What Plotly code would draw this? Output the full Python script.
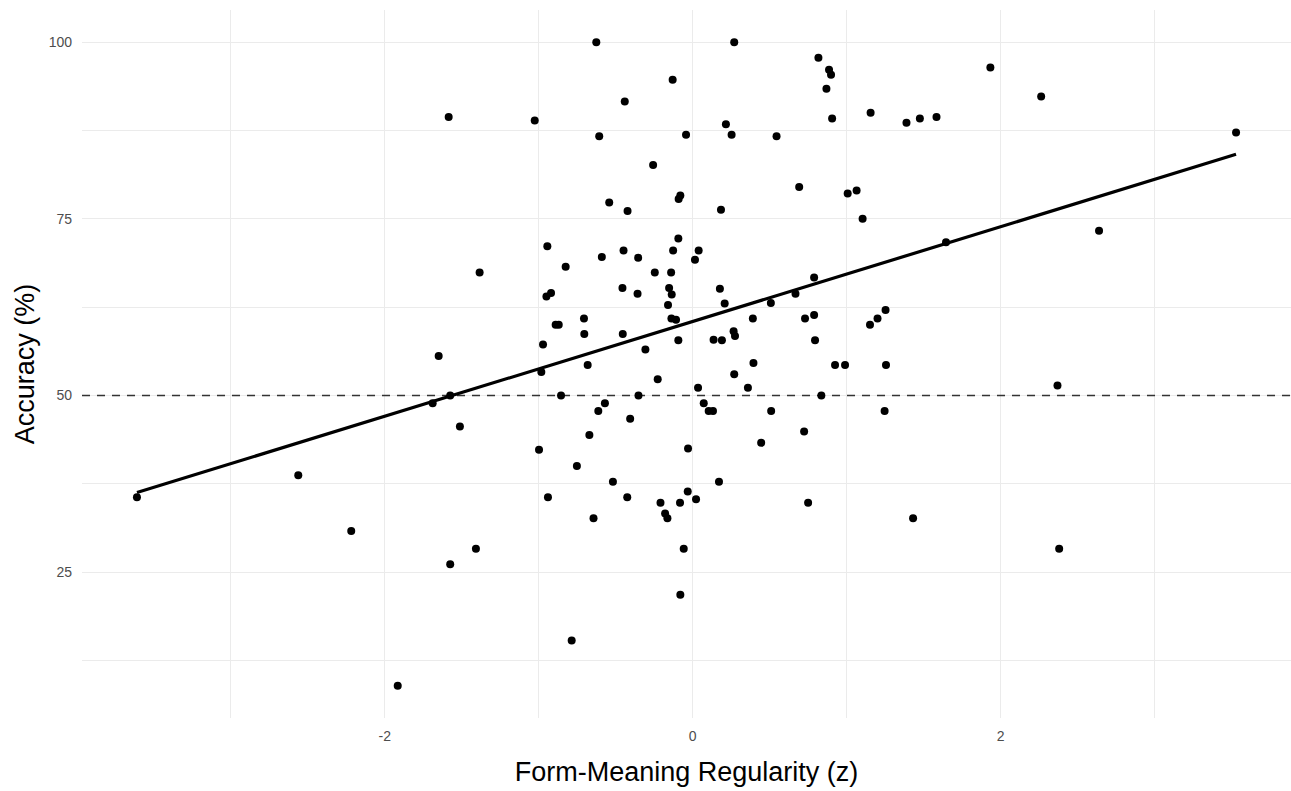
import numpy as np
import plotly.graph_objects as go

regularity_z = [
    -1.585, -1.384, -1.650, -0.626, 0.270, 0.817, 0.886, 0.899, 0.869, -0.130,
    -0.441, -1.026, 1.156, 0.906, 0.216, 0.253, -0.607, -0.043, 0.545, -0.257,
    0.692, 1.007, 1.065, -0.542, -0.080, -0.091, -0.423, 0.184, 1.104, -0.944,
    -0.093, -0.127, 0.039, -0.449, -0.590, -0.354, 0.015, -0.825, -0.246, -0.140,
    0.789, -0.456, -0.153, 0.177, -0.136, -0.358, -0.920, -0.950, 0.668, 0.508,
    0.208, -0.160, 1.253, 1.201, 1.152, 0.789, 0.730, 0.391, -0.138, -0.108,
    -0.706, -0.890, -0.870, -0.704, -0.454, -0.972, -0.307, -0.093, 0.136, 0.190,
    0.266, 0.275, 0.795, -0.682, -0.983, 0.395, 0.270, 0.925, 0.990, 1.256,
    -0.227, 0.359, 0.035, -0.855, -0.352, 0.836, -0.570, 0.072, -0.613, 0.104,
    0.132, 0.510, 1.247, -0.406, -0.671, 0.724, 0.445, -0.998, -0.030, -0.752,
    -0.518, 0.171, -0.940, -0.425, -0.032, 0.022, -0.209, -0.082, 0.750, -0.179,
    -0.164, -0.644, -0.058, -0.080, -0.786, -1.575, -1.689, -1.512, -2.562, -3.610,
    -2.218, -1.408, -1.575, -1.916, 1.934, 2.264, 1.389, 1.476, 1.584, 3.530,
    2.640, 1.646, 2.370, 1.432, 2.381,
]
accuracy = [
    89.4, 67.4, 55.6, 100.0, 100.0, 97.8, 96.1, 95.4, 93.4, 94.7,
    91.6, 88.9, 90.0, 89.2, 88.4, 86.9, 86.7, 86.9, 86.7, 82.6,
    79.5, 78.6, 79.0, 77.3, 78.3, 77.8, 76.1, 76.3, 75.0, 71.1,
    72.2, 70.5, 70.5, 70.5, 69.6, 69.5, 69.2, 68.2, 67.4, 67.4,
    66.7, 65.2, 65.2, 65.1, 64.3, 64.4, 64.5, 64.0, 64.4, 63.1,
    63.0, 62.8, 62.1, 60.9, 60.0, 61.4, 60.9, 60.9, 60.9, 60.7,
    60.9, 60.0, 60.0, 58.7, 58.7, 57.2, 56.5, 57.8, 57.9, 57.8,
    59.1, 58.4, 57.8, 54.3, 53.3, 54.6, 53.0, 54.3, 54.3, 54.3,
    52.3, 51.1, 51.1, 50.0, 50.0, 50.0, 48.9, 48.9, 47.8, 47.8,
    47.8, 47.8, 47.8, 46.7, 44.4, 44.9, 43.3, 42.3, 42.5, 40.0,
    37.8, 37.8, 35.6, 35.6, 36.4, 35.3, 34.8, 34.8, 34.8, 33.3,
    32.6, 32.6, 28.3, 21.8, 15.3, 50.0, 48.9, 45.6, 38.7, 35.6,
    30.8, 28.3, 26.1, 8.9, 96.4, 92.3, 88.6, 89.2, 89.4, 87.2,
    73.3, 71.7, 51.4, 32.6, 28.3,
]
chance_level = 50
x_ticks = [-2, 0, 2]
y_ticks = [25, 50, 75, 100]

x = np.array(regularity_z)
y = np.array(accuracy)
slope, intercept = np.polyfit(x, y, 1)
fit_x = np.array([x.min(), x.max()])
fit_y = intercept + slope * fit_x

xr = x.max() - x.min()
yr = y.max() - y.min()
x_range = [x.min() - 0.05 * xr, x.max() + 0.05 * xr]
y_range = [y.min() - 0.05 * yr, y.max() + 0.05 * yr]

FONT = "Liberation Sans, Arial, sans-serif"
GRID = "#EBEBEB"

fig = go.Figure()
fig.add_trace(go.Scatter(
    x=x_range, y=[chance_level, chance_level], mode="lines",
    line=dict(color="#333333", width=1.6, dash="8px,7px"),
    hoverinfo="skip", showlegend=False,
))
fig.add_trace(go.Scatter(
    x=regularity_z, y=accuracy, mode="markers",
    marker=dict(color="black", size=8, line=dict(width=0)),
    showlegend=False,
))
fig.add_trace(go.Scatter(
    x=fit_x, y=fit_y, mode="lines",
    line=dict(color="black", width=3.2),
    showlegend=False,
))

fig.update_layout(
    width=1291, height=791,
    margin=dict(l=82, r=0, t=10, b=73),
    paper_bgcolor="white", plot_bgcolor="white",
    font=dict(family=FONT, color="#4D4D4D"),
    xaxis=dict(
        range=x_range, tickvals=x_ticks, ticktext=[str(v) for v in x_ticks],
        showgrid=True, gridcolor=GRID, gridwidth=1.4, zeroline=False,
        showline=False, ticks="", tickfont=dict(size=14, color="#4D4D4D"),
        ticklabelstandoff=8,
        minor=dict(tickvals=[-3, -1, 1, 3], showgrid=True, gridcolor=GRID, gridwidth=1.0),
        title=dict(text="Form-Meaning Regularity (z)", font=dict(size=27, color="black"), standoff=19),
        automargin=False,
    ),
    yaxis=dict(
        range=y_range, tickvals=y_ticks, ticktext=[str(v) for v in y_ticks],
        showgrid=True, gridcolor=GRID, gridwidth=1.4, zeroline=False,
        showline=False, ticks="", tickfont=dict(size=14, color="#4D4D4D"),
        ticklabelstandoff=9,
        minor=dict(tickvals=[12.5, 37.5, 62.5, 87.5], showgrid=True, gridcolor=GRID, gridwidth=1.0),
        title=dict(text="Accuracy (%)", font=dict(size=27, color="black"), standoff=6),
        automargin=False,
    ),
)

fig.write_html("out.html")
